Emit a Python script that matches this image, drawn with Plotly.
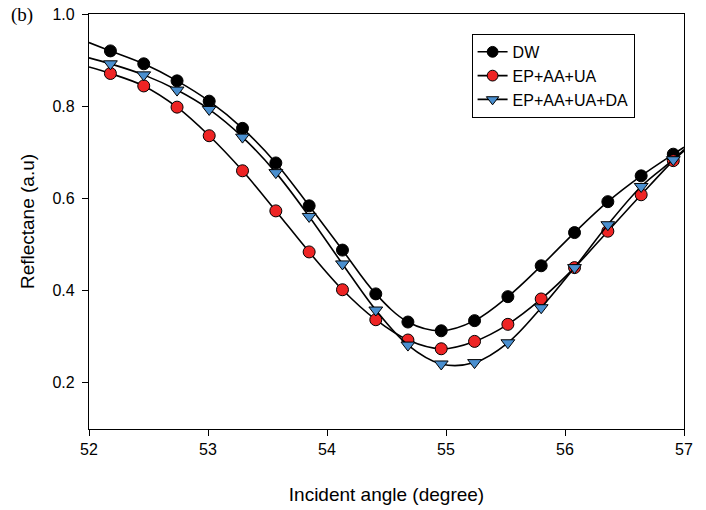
import plotly.graph_objects as go

# Incident angle of each measured point (degree)
angle = [52.18, 52.46, 52.74, 53.01, 53.29, 53.57, 53.85, 54.13, 54.41,
         54.68, 54.96, 55.24, 55.52, 55.80, 56.08, 56.36, 56.64, 56.91]

dw = [0.920, 0.892, 0.855, 0.811, 0.752, 0.677, 0.584, 0.488, 0.393,
      0.332, 0.313, 0.335, 0.387, 0.454, 0.526, 0.593, 0.649, 0.696]
ep_aa_ua = [0.871, 0.844, 0.798, 0.736, 0.660, 0.573, 0.484, 0.402, 0.337,
            0.293, 0.274, 0.290, 0.327, 0.382, 0.450, 0.529, 0.608, 0.682]
ep_aa_ua_da = [0.892, 0.868, 0.835, 0.793, 0.733, 0.656, 0.561, 0.458, 0.358,
               0.282, 0.241, 0.244, 0.287, 0.363, 0.450, 0.543, 0.626, 0.684]

# fitted-curve values where the curves meet the plot edges (x = 52 and x = 57)
edge_x = [52.0, 57.0]
dw_edges = [0.938, 0.711]
ep_aa_ua_edges = [0.885, 0.703]
ep_aa_ua_da_edges = [0.905, 0.706]

series_names = ["DW", "EP+AA+UA", "EP+AA+UA+DA"]
x_ticks = [52, 53, 54, 55, 56, 57]
y_ticks = [0.2, 0.4, 0.6, 0.8, 1.0]

styles = [
    dict(symbol="circle", color="#000000"),
    dict(symbol="circle", color="#ee2424"),
    dict(symbol="triangle-down", color="#4a8fcf"),
]

fig = go.Figure()
for name, ys, edges, st in zip(series_names,
                               [dw, ep_aa_ua, ep_aa_ua_da],
                               [dw_edges, ep_aa_ua_edges, ep_aa_ua_da_edges],
                               styles):
    lx = [edge_x[0]] + angle + [edge_x[1]]
    ly = [edges[0]] + ys + [edges[1]]
    sizes = [0] + [12] * len(angle) + [0]
    fig.add_trace(go.Scatter(
        x=lx, y=ly, name=name, mode="lines+markers",
        line=dict(color="black", width=1.6, shape="spline", smoothing=1.0),
        marker=dict(symbol=st["symbol"], color=st["color"], size=sizes,
                    opacity=1, line=dict(color="black", width=1)),
        cliponaxis=True,
    ))

axis_common = dict(
    showgrid=False, zeroline=False, showline=True, linecolor="black",
    linewidth=1.2, mirror=True, ticks="outside", ticklen=6, tickwidth=1,
    automargin=False,
    tickcolor="black", tickfont=dict(family="Liberation Sans, Arial", size=16, color="black"),
)

fig.update_layout(
    width=706, height=510,
    margin=dict(l=89, r=22, t=14, b=81),
    paper_bgcolor="white", plot_bgcolor="white",
    font=dict(family="Liberation Sans, Arial", color="black"),
    xaxis=dict(range=[52, 57], tickvals=x_ticks,
               title=dict(text="Incident angle (degree)", font=dict(size=19), standoff=30),
               **axis_common),
    yaxis=dict(range=[0.1, 1.0], tickvals=y_ticks, tickformat=".1f",
               ticklabelstandoff=4,
               title=dict(text="Reflectane (a.u)", font=dict(size=19), standoff=12),
               **axis_common),
    legend=dict(x=0.643, y=0.952, xanchor="left", yanchor="top",
                bgcolor="white", bordercolor="black", borderwidth=1,
                font=dict(size=16), tracegroupgap=0),
    annotations=[dict(text="(b)", xref="paper", yref="paper", x=-0.135, y=1.03,
                      xanchor="left", yanchor="top", showarrow=False,
                      font=dict(family="Liberation Serif, Times New Roman", size=19))],
)

fig.write_html("out.html")
